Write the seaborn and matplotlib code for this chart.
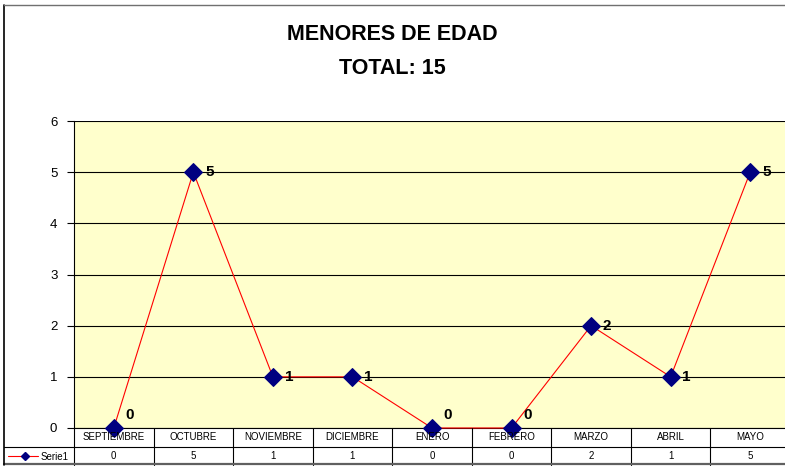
import numpy as np
import pandas as pd
import matplotlib
matplotlib.use('Agg')
import matplotlib.pyplot as plt
from matplotlib.lines import Line2D
import seaborn as sns

meses = ['SEPTIEMBRE', 'OCTUBRE', 'NOVIEMBRE', 'DICIEMBRE', 'ENERO',
         'FEBRERO', 'MARZO', 'ABRIL', 'MAYO']
valores = [0, 5, 1, 1, 0, 0, 2, 1, 5]
serie = 'Serie1'
titulo = 'MENORES DE EDAD'
subtitulo = 'TOTAL: 15'
yticks = [0, 1, 2, 3, 4, 5, 6]

sns.set_style('white')
plt.rcParams['font.family'] = ['Liberation Sans', 'DejaVu Sans']
plt.rcParams['text.color'] = 'black'
plt.rcParams['ytick.labelcolor'] = 'black'

W, H = 785, 466
fig = plt.figure(figsize=(W / 100, H / 100), dpi=100)


def fx(px):
    return px / W


def fy(py):
    return 1 - py / H


# zona del grafico y de la tabla (pixeles)
left, right, top, bottom, tbot = 74, 790, 121, 428, 465
ax = fig.add_axes([fx(left), fy(bottom), (right - left) / W, (bottom - top) / H])
tab = fig.add_axes([fx(left), fy(tbot), (right - left) / W, (tbot - bottom) / H])

df = pd.DataFrame({'pos': np.arange(len(meses)), 'valor': valores})
sns.lineplot(data=df, x='pos', y='valor', ax=ax, color='#FF0000', linewidth=0.8,
             marker='D', markersize=9.5, markerfacecolor='#000080',
             markeredgecolor='#000080', clip_on=False, zorder=4)

ax.set_facecolor('#FFFFCC')
ax.set_xlim(-0.5, len(meses) - 0.5)
ax.set_ylim(min(yticks), max(yticks))
ax.set_yticks(yticks)
ax.set_xticks([])
ax.set_xlabel('')
ax.set_ylabel('')
ax.yaxis.grid(True, color='black', linewidth=0.8)
ax.set_axisbelow(True)
for s in ['top', 'right']:
    ax.spines[s].set_visible(False)
for s in ['left', 'bottom']:
    ax.spines[s].set_color('black')
    ax.spines[s].set_linewidth(0.8)
ax.tick_params(axis='y', left=True, length=5, width=0.8, color='black',
               pad=7, labelsize=9.5, labelcolor='black')

# etiquetas de datos
for i, v in enumerate(valores):
    dy = 9.5 if v == 0 else 0
    ax.annotate(str(v), (i, v), xytext=(8.5, dy), textcoords='offset points',
                fontsize=11, fontweight='bold', ha='left', va='center',
                color='black', zorder=5)

# tabla de datos
tab.set_xlim(ax.get_xlim())
tab.set_ylim(2, 0)
tab.axis('off')
for i in range(len(meses) + 1):
    tab.plot([i - 0.5, i - 0.5], [0, 2], color='black', lw=0.8, clip_on=False)
for i, (m, v) in enumerate(zip(meses, valores)):
    tab.text(i, 0.5, m, ha='center', va='center', fontsize=7, color='black')
    tab.text(i, 1.5, str(v), ha='center', va='center', fontsize=7, color='black')

fig.add_artist(Line2D([fx(4), fx(W)], [fy(447), fy(447)], color='black', lw=0.8))
fig.add_artist(Line2D([fx(4), fx(W)], [fy(464), fy(464)], color='#606060', lw=1.6))

# leyenda en la tabla
fig.add_artist(Line2D([fx(8), fx(38)], [fy(456), fy(456)], color='#FF0000', lw=0.8))
fig.add_artist(Line2D([fx(25)], [fy(456)], marker='D', markersize=4.5, lw=0,
                      markerfacecolor='#000080', markeredgecolor='#000080'))
fig.text(fx(41), fy(457), serie, ha='left', va='center', fontsize=7, color='black')

# marco exterior
fig.add_artist(Line2D([fx(4), fx(4)], [fy(5), fy(465)], color='black', lw=1.2))
fig.add_artist(Line2D([fx(4), fx(W)], [fy(5), fy(5)], color='#707070', lw=1.0))

# titulos
fig.text(0.4994, fy(35), titulo, ha='center', va='center', fontsize=15.5,
         fontweight='bold', color='black')
fig.text(0.4994, fy(68), subtitulo, ha='center', va='center', fontsize=15.5,
         fontweight='bold', color='black')

fig.savefig('out.png', dpi=100)
